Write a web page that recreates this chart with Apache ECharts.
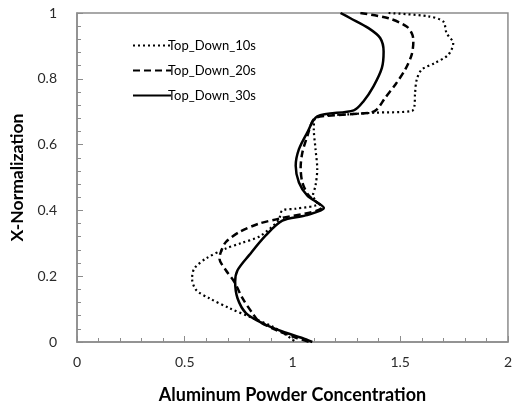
<!DOCTYPE html>
<html>
<head>
<meta charset="utf-8">
<script src="https://cdn.jsdelivr.net/npm/echarts@6/dist/echarts.min.js"></script>
<style>html,body{margin:0;padding:0;background:#fff}#c{width:515px;height:409px}</style>
</head>
<body>
<div id="c"></div>
<script>
var seriesNames = ['Top_Down_10s', 'Top_Down_20s', 'Top_Down_30s'];
var xTicks = [0, 0.5, 1, 1.5, 2];
var yTicks = [0, 0.2, 0.4, 0.6, 0.8, 1];

// [concentration, x-normalization]
var topDown10s = [
  [1.446,1.0],[1.63,0.99],[1.70,0.974],[1.715,0.939],[1.746,0.908],[1.723,0.873],[1.661,0.848],
  [1.60,0.828],[1.577,0.798],[1.569,0.757],[1.566,0.717],[1.554,0.702],[1.384,0.697],[1.261,0.692],
  [1.107,0.682],[1.099,0.647],[1.107,0.586],[1.115,0.526],[1.107,0.475],[1.095,0.445],[1.118,0.42],
  [1.015,0.405],[0.953,0.40],[0.935,0.37],[0.85,0.322],[0.76,0.30],[0.691,0.284],[0.599,0.254],
  [0.545,0.224],[0.534,0.193],[0.553,0.158],[0.614,0.133],[0.707,0.103],[0.815,0.073],[0.907,0.047],
  [0.969,0.022],[1.015,0.0]
];
var topDown20s = [
  [1.315,1.0],[1.446,0.984],[1.53,0.959],[1.556,0.935],[1.561,0.913],[1.553,0.873],[1.523,0.828],
  [1.477,0.782],[1.43,0.742],[1.392,0.707],[1.361,0.697],[1.153,0.687],[1.099,0.677],[1.069,0.626],
  [1.046,0.576],[1.038,0.531],[1.046,0.485],[1.076,0.445],[1.138,0.41],[0.938,0.375],[0.845,0.36],
  [0.753,0.334],[0.691,0.304],[0.668,0.274],[0.661,0.254],[0.691,0.218],[0.73,0.183],[0.768,0.133],
  [0.814,0.088],[0.845,0.063],[0.93,0.035],[1.02,0.012],[1.08,0.0]
];
var topDown30s = [
  [1.223,1.0],[1.269,0.984],[1.353,0.954],[1.407,0.924],[1.423,0.883],[1.415,0.833],[1.376,0.777],
  [1.33,0.732],[1.284,0.704],[1.115,0.686],[1.069,0.637],[1.03,0.586],[1.015,0.536],[1.03,0.485],
  [1.069,0.445],[1.146,0.407],[1.061,0.385],[0.953,0.369],[0.876,0.324],[0.799,0.264],[0.745,0.218],
  [0.734,0.183],[0.745,0.133],[0.784,0.088],[0.861,0.057],[0.953,0.032],[1.045,0.012],[1.092,0.0]
];

var FONT = 'Lato, "Open Sans", sans-serif';
var chart = echarts.init(document.getElementById('c'));
chart.setOption({
  animation: false,
  backgroundColor: '#fff',
  grid: { left: 77, right: 5, top: 13, bottom: 65, show: true, borderColor: '#8c8c8c', borderWidth: 1.5 },
  legend: {
    orient: 'vertical', left: 127, top: 34,
    itemWidth: 38, itemHeight: 14, itemGap: 12,
    data: seriesNames,
    itemStyle: { opacity: 0 },
    textStyle: { fontFamily: FONT, fontSize: 13, color: '#000', padding: [0,0,0,-8] }
  },
  xAxis: {
    type: 'value', min: xTicks[0], max: xTicks[xTicks.length-1], interval: 0.5,
    name: 'Aluminum Powder Concentration', nameLocation: 'middle', nameGap: 44,
    nameTextStyle: { fontFamily: FONT, fontSize: 18, fontWeight: 'bold', color: '#000' },
    axisLine: { lineStyle: { color: '#8c8c8c', width: 1.5 } },
    axisTick: { inside: true, length: 6, lineStyle: { color: '#8c8c8c' } },
    minorTick: { show: true, splitNumber: 5, length: 4, lineStyle: { color: '#8c8c8c' } },
    splitLine: { show: false },
    axisLabel: { margin: 13, fontFamily: FONT, fontSize: 14, color: '#2a2a2a',
      formatter: function (v) { return String(v); } }
  },
  yAxis: {
    type: 'value', min: yTicks[0], max: yTicks[yTicks.length-1], interval: 0.2,
    name: 'X-Normalization', nameLocation: 'middle', nameGap: 50, nameRotate: 90,
    nameTextStyle: { fontFamily: FONT, fontSize: 17.5, fontWeight: 'bold', color: '#000' },
    axisLine: { show: true, lineStyle: { color: '#8c8c8c', width: 1.5 } },
    axisTick: { show: true, inside: true, length: 6, lineStyle: { color: '#8c8c8c' } },
    minorTick: { show: true, splitNumber: 5, length: 4, lineStyle: { color: '#8c8c8c' } },
    splitLine: { show: false },
    axisLabel: { margin: 20, fontFamily: FONT, fontSize: 14, color: '#2a2a2a',
      formatter: function (v) { return String(v); } }
  },
  series: [
    { name: seriesNames[0], type: 'line', data: topDown10s, symbol: 'none', smooth: 0.3,
      lineStyle: { color: '#000', width: 2.2, type: [2, 3] }, itemStyle: { color: '#000' } },
    { name: seriesNames[1], type: 'line', data: topDown20s, symbol: 'none', smooth: 0.3,
      lineStyle: { color: '#000', width: 2.5, type: [7, 4] }, itemStyle: { color: '#000' } },
    { name: seriesNames[2], type: 'line', data: topDown30s, symbol: 'none', smooth: 0.3,
      lineStyle: { color: '#000', width: 2.5, type: 'solid' }, itemStyle: { color: '#000' } }
  ]
});
</script>
</body>
</html>
